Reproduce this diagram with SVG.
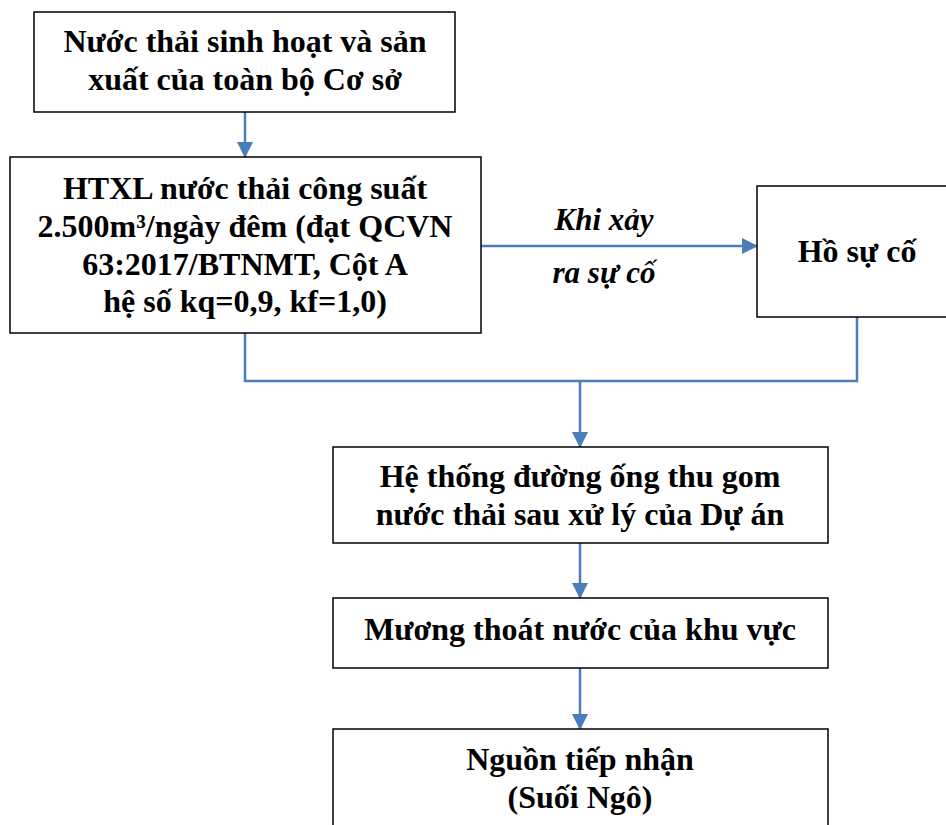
<svg xmlns="http://www.w3.org/2000/svg" width="946" height="825" viewBox="0 0 946 825">
  <defs>
    <marker id="arrow" markerWidth="16" markerHeight="16" refX="15" refY="8" orient="auto" markerUnits="userSpaceOnUse">
      <path d="M0,0 L16,8 L0,16 Z" fill="#4a7ebb"/>
    </marker>
    <style>
      .box { fill: #ffffff; stroke: #000000; stroke-width: 1.5; }
      .t { font-family: 'Liberation Serif', 'Times New Roman', serif; font-weight: bold; font-size: 32px; fill: #000000; text-anchor: middle; }
      .it { font-family: 'Liberation Serif', 'Times New Roman', serif; font-weight: bold; font-style: italic; font-size: 31px; fill: #000000; text-anchor: middle; }
      .line { fill: none; stroke: #4a7ebb; stroke-width: 2.5; }
    </style>
  </defs>
  <rect width="946" height="825" fill="#ffffff"/>

  <g id="connectors">
    <line class="line" x1="245" y1="112" x2="245" y2="157" marker-end="url(#arrow)"/>
    <line class="line" x1="481" y1="246" x2="757" y2="246" marker-end="url(#arrow)"/>
    <polyline class="line" points="245,333 245,381 857,381 857,317"/>
    <line class="line" x1="580" y1="381" x2="580" y2="447" marker-end="url(#arrow)"/>
    <line class="line" x1="580" y1="543" x2="580" y2="598" marker-end="url(#arrow)"/>
    <line class="line" x1="580" y1="668" x2="580" y2="729" marker-end="url(#arrow)"/>
    <text class="it" x="604" y="230">Khi xảy</text>
    <text class="it" x="604" y="283">ra sự cố</text>
  </g>

  <g id="source">
    <rect class="box" x="34" y="12" width="421" height="100"/>
    <text class="t" x="245" y="52">Nước thải sinh hoạt và sản</text>
    <text class="t" x="245" y="90">xuất của toàn bộ Cơ sở</text>
  </g>

  <g id="treatment">
    <rect class="box" x="10" y="157" width="471" height="176"/>
    <text class="t" x="245" y="199">HTXL nước thải công suất</text>
    <text class="t" x="245" y="237">2.500m³/ngày đêm (đạt QCVN</text>
    <text class="t" x="245" y="275">63:2017/BTNMT, Cột A</text>
    <text class="t" x="245" y="312">hệ số kq=0,9, kf=1,0)</text>
  </g>

  <g id="emergency-pond">
    <rect class="box" x="757" y="186" width="200" height="131"/>
    <text class="t" x="857" y="262">Hồ sự cố</text>
  </g>

  <g id="collection">
    <rect class="box" x="333" y="447" width="495" height="96"/>
    <text class="t" x="580" y="487">Hệ thống đường ống thu gom</text>
    <text class="t" x="580" y="525">nước thải sau xử lý của Dự án</text>
  </g>

  <g id="drain">
    <rect class="box" x="333" y="598" width="495" height="70"/>
    <text class="t" x="580" y="640">Mương thoát nước của khu vực</text>
  </g>

  <g id="receiver">
    <rect class="box" x="333" y="729" width="495" height="110"/>
    <text class="t" x="580" y="770">Nguồn tiếp nhận</text>
    <text class="t" x="580" y="808">(Suối Ngô)</text>
  </g>
</svg>
